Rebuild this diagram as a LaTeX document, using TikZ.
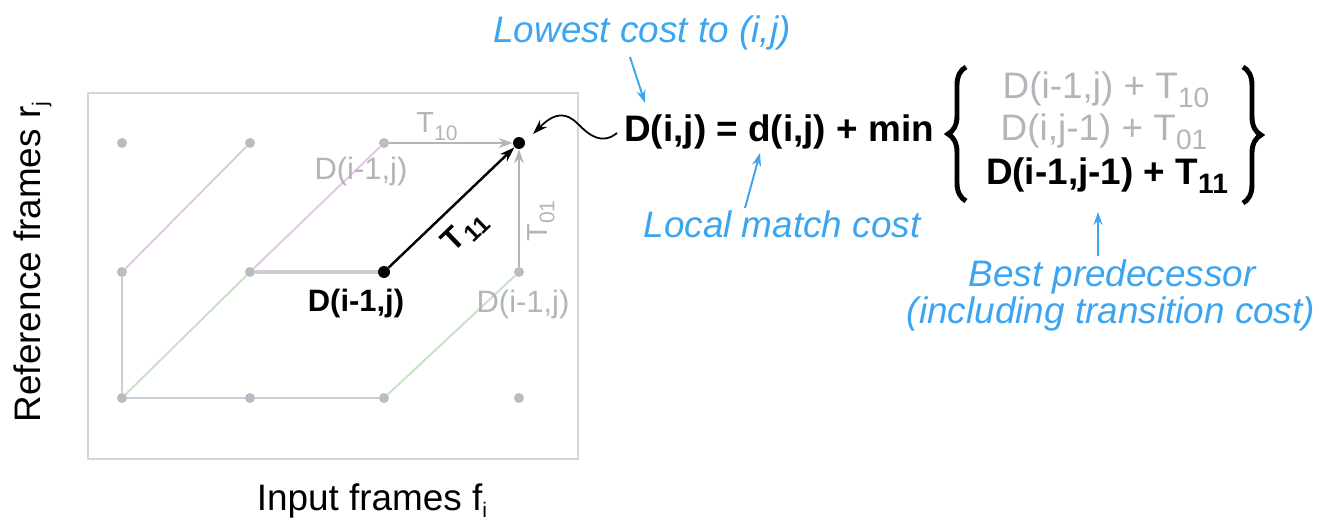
\documentclass[tikz,border=0pt]{standalone}
\usepackage{fontspec}
\setmainfont{Liberation Sans}
\usepackage{graphicx}
\usetikzlibrary{arrows.meta,decorations.pathreplacing}
\definecolor{bluec}{RGB}{60,165,240}
\definecolor{grayt}{RGB}{180,180,188}
\definecolor{linepink}{RGB}{226,200,226}
\definecolor{linegreen}{RGB}{198,226,198}
\definecolor{linegray}{RGB}{205,205,218}
\definecolor{boxc}{RGB}{212,212,224}
\newcommand\Fbig{\fontsize{21}{25}\selectfont}
\newcommand\Fsm{\fontsize{17.6}{21}\selectfont}
\newcommand\Ft{\fontsize{16.5}{20}\selectfont}
\newcommand\bsub[1]{\raisebox{-5pt}{\fontsize{16}{16}\selectfont #1}}
\newcommand\gsub[1]{\raisebox{-4pt}{\fontsize{12}{12}\selectfont #1}}
\newcommand\tsub[1]{\kern1pt\raisebox{-4pt}{\fontsize{13.5}{14}\selectfont #1}}
\begin{document}
\begin{tikzpicture}[x=0.02cm,y=-0.02cm,
  gdot/.style={circle,fill=grayt!90,inner sep=0pt,minimum size=0.2cm},
  bdot/.style={circle,fill=black,inner sep=0pt,minimum size=0.24cm},
  gline/.style={line width=1.1pt},
  garrow/.style={line width=1.1pt,grayt,-{Stealth[length=0.28cm,width=0.2cm]}},
  barrow/.style={line width=1.4pt,black,-{Stealth[length=0.3cm,width=0.2cm]}},
  blarrow/.style={line width=1.1pt,bluec,-{Stealth[length=0.26cm,width=0.18cm]}},
  bluetext/.style={text=bluec,font=\Fbig\itshape,inner sep=0pt},
  eqtext/.style={font=\Fbig,inner sep=0pt},
  glabel/.style={font=\Fsm,inner sep=0pt}
  ]
\useasboundingbox (0,0) rectangle (1319,520);
% frame
\draw[boxc,line width=0.8pt] (88,93) rectangle (578,459);
% grid dots
\node[gdot] (p11) at (122,398) {};
\node[gdot] (p21) at (250,398) {};
\node[gdot] (p31) at (384,398) {};
\node[gdot] (p41) at (519,398) {};
\node[gdot] (p12) at (122,272) {};
\node[gdot] (p22) at (250,272) {};
\node[bdot] (p32) at (384,272) {};
\node[gdot] (p42) at (519,272) {};
\node[gdot] (p13) at (122,143) {};
\node[gdot] (p23) at (250,143) {};
\node[gdot] (p33) at (384,143) {};
\node[bdot] (p43) at (519,143) {};
% grid lines
\draw[gline,linepink] (p12) -- (p23);
\draw[gline,linepink] (p22) -- (p33);
\draw[gline,linegreen] (p11) -- (p22);
\draw[gline,linegreen] (p31) -- (p42);
\draw[gline,linegray] (p11) -- (p12);
\draw[gline,linegray] (p11) -- (p21);
\draw[gline,linegray] (p21) -- (p31);
\draw[line width=2pt,linegray] (p22) -- (p32);
% transitions
\draw[garrow] (p33) -- (p43);
\draw[garrow] (p42) -- (p43);
\draw[barrow] (p32) -- (p43);
% grid labels
\node[glabel,text=grayt,anchor=base] (lup) at (361,180) {D(i-1,j)};
\node[glabel,font=\Fsm\bfseries,anchor=base] (lmid) at (356,312) {D(i-1,j)};
\node[glabel,text=grayt,anchor=base] (lright) at (523,313) {D(i-1,j)};
\node[glabel,font=\Ft,text=grayt,anchor=base west] (t10) at (416,133) {T\gsub{10}};
\node[glabel,font=\fontsize{18}{20}\selectfont\bfseries,rotate=44] (t11) at (465,232) {T\tsub{11}};
\node[glabel,font=\Ft,text=grayt,rotate=90] (t01) at (541,221) {T\gsub{01}};
% axis labels
\node[eqtext,rotate=90,anchor=base] (ylab) at (40,262) {Reference frames r\gsub{j}};
\node[eqtext,anchor=base] (xlab) at (372,510) {Input frames f\gsub{i}};
% equation
\node[eqtext,font=\Fbig\bfseries,anchor=base west] (eq) at (624,142) {D(i,j) = d(i,j) + min};
\node[eqtext,text=grayt,anchor=base] (c1) at (1106,99) {D(i-1,j) + T\bsub{10}};
\node[eqtext,text=grayt,anchor=base] (c2) at (1104,141) {D(i,j-1) + T\bsub{01}};
\node[eqtext,font=\Fbig\bfseries,anchor=base] (c3) at (1107,185) {D(i-1,j-1) + T\bsub{11}};
\draw[line width=2.8pt,decorate,decoration={brace,amplitude=0.36cm,aspect=0.5}] (966,201) -- (966,67);
\draw[line width=2.8pt,decorate,decoration={brace,amplitude=0.36cm,aspect=0.5}] (1243,67) -- (1243,203);
% wavy arrow
\coordinate (wv) at (617,133);
\draw[line width=1pt,-{Stealth[length=0.3cm,width=0.2cm]}] (wv) .. controls (602,145) and (590,136) .. (578,124) .. controls (566,112) and (555,112) .. (533,134);
% blue annotations
\node[bluetext,anchor=base] (lowest) at (642,43) {Lowest cost to (i,j)};
\node[bluetext,anchor=base] (local) at (782,238) {Local match cost};
\node[bluetext,anchor=base] (best) at (1112,287) {Best predecessor};
\node[bluetext,anchor=base] (incl) at (1111,323) {(including transition cost)};
\coordinate (a1s) at (630,57);
\coordinate (a1e) at (645,103);
\coordinate (a2s) at (745,208);
\coordinate (a2e) at (760,153);
\coordinate (a3s) at (1098,256);
\coordinate (a3e) at (1098,212);
\draw[blarrow] (a1s) -- (a1e);
\draw[blarrow] (a2s) -- (a2e);
\draw[blarrow] (a3s) -- (a3e);
\end{tikzpicture}
\end{document}
